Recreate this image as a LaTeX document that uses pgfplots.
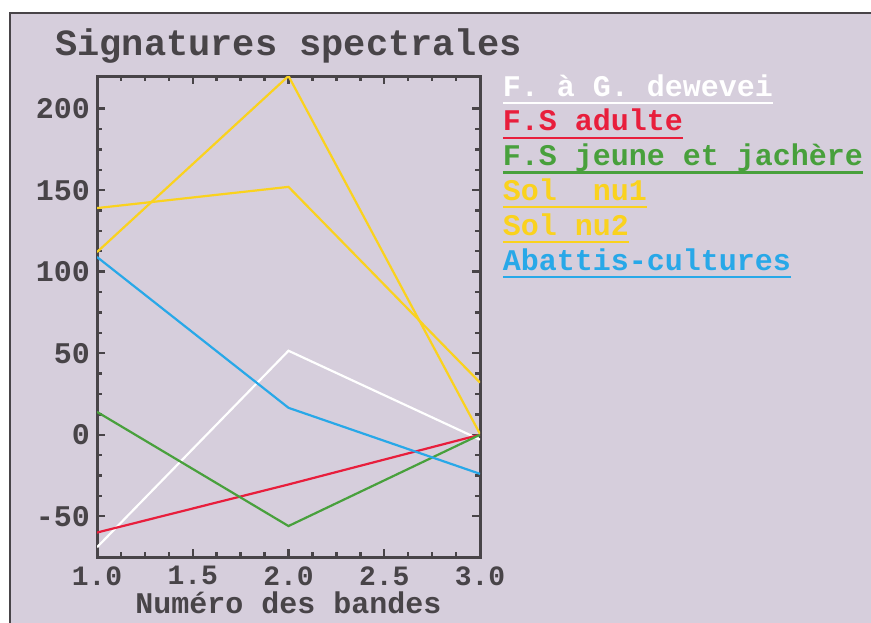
\documentclass[border=0pt]{standalone}
\usepackage{pgfplots}
\pgfplotsset{compat=1.18}
\usepackage{fontspec}
\setmainfont{Liberation Mono}
\definecolor{bg}{RGB}{214,206,220}
\definecolor{ink}{RGB}{72,68,72}
\definecolor{cred}{RGB}{232,30,60}
\definecolor{cgreen}{RGB}{72,160,60}
\definecolor{cyel}{RGB}{250,210,30}
\definecolor{cblue}{RGB}{40,168,232}
\newcommand{\ul}[1]{\setbox0\hbox{#1}\rlap{\rule[-4pt]{\wd0}{1.1pt}}\box0}
\begin{document}
\begin{tikzpicture}[x=0.5pt,y=-0.5pt]
\useasboundingbox (0,0) rectangle (871,622);
\fill[white] (0,0) rectangle (871,622);
\filldraw[fill=bg,draw=ink,line width=1pt] (10,13) rectangle (890,640);
\coordinate (A) at (97,557);
\begin{axis}[
  at={(A)}, anchor=south west,
  width=191.5pt, height=240.5pt, scale only axis,
  xmin=1, xmax=3, ymin=-75, ymax=220,
  xtick={1,1.5,2,2.5,3}, ytick={-50,0,50,100,150,200},
  minor x tick num=3, minor y tick num=3,
  tick align=inside,
  major tick length=4pt, minor tick length=2.5pt,
  every tick/.style={ink, line width=1.2pt},
  axis line style={ink, line width=1.5pt},
  axis background/.style={fill=bg},
  xticklabel style={/pgf/number format/fixed, /pgf/number format/fixed zerofill, /pgf/number format/precision=1},
  /pgf/number format/assume math mode=true,
  ticklabel style={font=\fontsize{15}{15}\selectfont\bfseries, text=ink},
  xticklabel style={font=\fontsize{14}{14}\selectfont\bfseries, inner sep=0pt, text depth=0pt, anchor=north, yshift=-4.5pt},
  title={Signatures spectrales},
  title style={font=\fontsize{18.5}{18.5}\selectfont\bfseries, text=ink, at={(axis description cs:0.5,1)}, anchor=base, yshift=4.5pt},
  xlabel={Numéro des bandes},
  xlabel style={font=\fontsize{15}{15}\selectfont\bfseries, text=ink, at={(axis description cs:0.5,0)}, anchor=base, yshift=-28pt, inner sep=0pt},
  legend image code/.code={},
  legend style={at={(axis description cs:1.06,1)}, anchor=north west, draw=none, fill=none,
    inner sep=0pt, outer sep=0pt, column sep=0pt, row sep=3.4pt,
    font=\fontsize{15}{15}\selectfont\bfseries,
    nodes={inner sep=0pt, text height=10pt, text depth=4pt}},
  legend cell align=left,
  every axis plot/.append style={line width=1.1pt},
]
\addplot[white] coordinates {(1,-69) (2,51.5) (3,-3)};
\addplot[cred] coordinates {(1,-60) (2,-30.5) (3,0)};
\addplot[cgreen] coordinates {(1,14) (2,-56) (3,0)};
\addplot[cyel] coordinates {(1,112) (2,220) (3,0.5)};
\addplot[cyel] coordinates {(1,139) (2,152) (3,32)};
\addplot[cblue] coordinates {(1,109) (2,16.5) (3,-24)};
\legend{\textcolor{white}{\ul{F. à G. dewevei}},
        \textcolor{cred}{\ul{F.S adulte}},
        \textcolor{cgreen}{\ul{F.S jeune et jachère}},
        \textcolor{cyel}{\ul{Sol~~nu1}},
        \textcolor{cyel}{\ul{Sol nu2}},
        \textcolor{cblue}{\ul{Abattis-cultures}}}
\end{axis}
\end{tikzpicture}
\end{document}
